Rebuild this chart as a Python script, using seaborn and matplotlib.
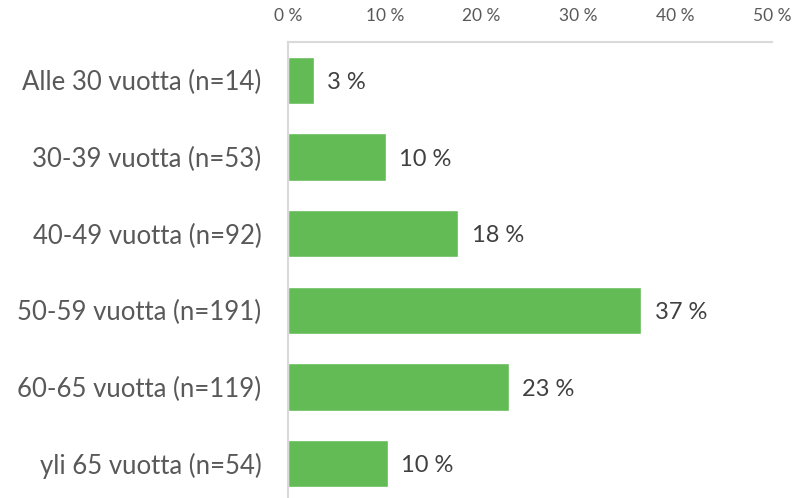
import matplotlib
matplotlib.use("Agg")
import matplotlib.pyplot as plt
import seaborn as sns
import pandas as pd
from matplotlib.ticker import FuncFormatter

categories = ["Alle 30 vuotta (n=14)", "30-39 vuotta (n=53)", "40-49 vuotta (n=92)",
              "50-59 vuotta (n=191)", "60-65 vuotta (n=119)", "yli 65 vuotta (n=54)"]
values = [2.7, 10.1, 17.6, 36.5, 22.8, 10.3]
labels = ["3 %", "10 %", "18 %", "37 %", "23 %", "10 %"]
xticks = [0, 10, 20, 30, 40, 50]

sns.set_theme(style="white")
plt.rcParams['font.family'] = ['Lato', 'DejaVu Sans']

df = pd.DataFrame({"cat": categories, "val": values})

fig = plt.figure(figsize=(7.98, 4.98), dpi=100)
ax = fig.add_axes([288/798, -4/498, (772-288)/798, (498-42+4)/498])
sns.barplot(data=df, y="cat", x="val", color="#62BB55", saturation=1, width=0.62, ax=ax, orient="h")

ax.set_xlim(0, 50)
ax.set_ylim(5.5, -0.5)
ax.set_xticks(xticks)
ax.xaxis.set_major_formatter(FuncFormatter(lambda v, p: f"{int(v)} %"))
ax.xaxis.tick_top()
ax.tick_params(axis="x", length=0, pad=13, labelsize=12.5, labelcolor="#595959")
ax.tick_params(axis="y", length=0, pad=19, labelsize=18.5, labelcolor="#595959")
for t in ax.get_yticklabels():
    t.set_verticalalignment("center_baseline")
ax.set_xlabel("")
ax.set_ylabel("")

for s in ["bottom", "right"]:
    ax.spines[s].set_visible(False)
for s in ["top", "left"]:
    ax.spines[s].set_color("#D9D9D9")
    ax.spines[s].set_linewidth(1.5)

for i, (v, lab) in enumerate(zip(values, labels)):
    ax.annotate(lab, (v, i), xytext=(9.5, 0), textcoords="offset points",
                va="center_baseline", ha="left", fontsize=17, color="#404040")

fig.savefig("out.png", dpi=100)
